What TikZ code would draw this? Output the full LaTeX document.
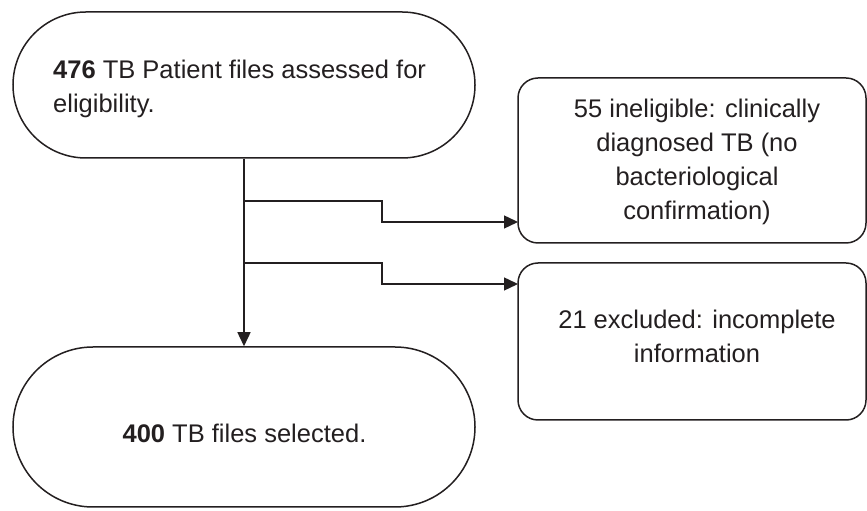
\documentclass[tikz,border=0pt]{standalone}
\usepackage{fontspec}
\setmainfont{Liberation Sans}
\usetikzlibrary{arrows.meta,shapes.misc}
\definecolor{ink}{RGB}{35,31,32}
\begin{document}
\begin{tikzpicture}[x=1pt,y=1pt,
  term/.style={rounded rectangle, draw=ink, line width=1.5pt, inner sep=0pt},
  sidebox/.style={rectangle, rounded corners=20pt, draw=ink, line width=1.5pt, inner sep=0pt},
  lbl/.style={font=\fontsize{25.5}{34}\selectfont, text=ink, inner sep=0pt},
  conn/.style={draw=ink, line width=1.4pt},
  arr/.style={conn, -{Triangle[length=14pt,width=13pt]}}]
\useasboundingbox (0,0) rectangle (867,511);
\node[term, minimum width=462pt, minimum height=146pt] (top) at (244,426) {};
\node[term, minimum width=462pt, minimum height=160pt] (bot) at (244,84) {};
\node[sidebox, minimum width=348pt, minimum height=165pt] (b1) at (692,350.5) {};
\node[sidebox, minimum width=348pt, minimum height=157pt] (b2) at (692,169.5) {};
\node[lbl, anchor=base west, align=left] (toptext) at (53,398) {\textbf{476} TB Patient files assessed for\\eligibility.};
\node[lbl, anchor=base, align=center] (b1text) at (697,291) {55 ineligible: clinically\\diagnosed TB (no\\bacteriological\\confirmation)};
\node[lbl, anchor=base, align=center] (b2text) at (697,148) {21 excluded: incomplete\\information};
\node[lbl, anchor=base] (bottext) at (244.5,68) {\textbf{400} TB files selected.};
\coordinate (s1) at (244,310);
\coordinate (m1) at (382,310);
\coordinate (e1) at (518,289);
\coordinate (s2) at (244,248);
\coordinate (m2) at (382,248);
\coordinate (e2) at (518,227);
\draw[arr] (top.south) -- (bot.north);
\draw[arr] (s1) -- (m1) |- (e1);
\draw[arr] (s2) -- (m2) |- (e2);
\end{tikzpicture}
\end{document}
